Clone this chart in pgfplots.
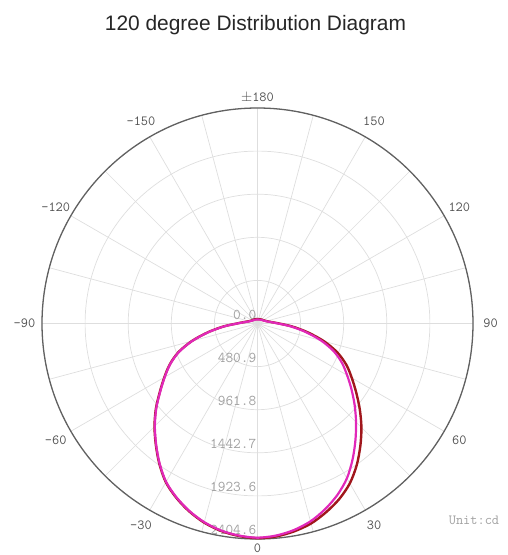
\documentclass[border=0pt]{standalone}
\usepackage{fontspec}
\setmainfont{Liberation Sans}
\usepackage{pgfplots}
\usepackage{pgfplotstable}
\usepgfplotslibrary{polar}
\pgfplotsset{compat=1.18}
\definecolor{redc}{RGB}{160,22,28}
\definecolor{magc}{RGB}{225,40,185}
\definecolor{gridc}{RGB}{222,222,222}
\definecolor{labc}{RGB}{80,80,80}
\definecolor{rlabc}{RGB}{160,160,160}

% angle (0 = downward axis) and intensity in cd
\pgfplotstableread{
a r
-180 50
-165 50
-150 55
-135 60
-120 70
-110 85
-100 120
-95 160
-90 230
-85 380
-80 560
-75 760
-70 940
-65 1080
-60 1200
-55 1330
-50 1480
-45 1625
-40 1765
-35 1910
-30 2045
-25 2145
-20 2230
-15 2300
-10 2350
-5 2380
0 2395
5 2385
10 2355
15 2310
20 2240
25 2160
30 2060
35 1930
40 1785
45 1640
50 1490
55 1345
60 1215
65 1095
70 950
75 770
80 570
85 390
90 240
95 165
100 125
110 90
120 75
135 62
150 55
165 50
180 50
}\redtab

\pgfplotstableread{
a r
-180 45
-165 45
-150 50
-135 55
-120 65
-110 80
-100 115
-95 155
-90 225
-85 375
-80 555
-75 755
-70 935
-65 1075
-60 1195
-55 1325
-50 1475
-45 1620
-40 1760
-35 1905
-30 2040
-25 2140
-20 2225
-15 2295
-10 2345
-5 2375
0 2390
5 2375
10 2340
15 2285
20 2205
25 2110
30 1995
35 1850
40 1700
45 1555
50 1415
55 1280
60 1155
65 1040
70 905
75 735
80 545
85 375
90 230
95 160
100 120
110 85
120 70
135 58
150 50
165 45
180 45
}\magtab

\begin{document}
\begin{tikzpicture}
\useasboundingbox (0,0) rectangle (508bp,555bp);
\node[anchor=base, font=\fontsize{21}{24}\selectfont, text=black!85] at (255.5bp,524.3bp) {120 degree Distribution Diagram};
\begin{polaraxis}[
  at={(257.5bp,231.5bp)}, anchor=center,
  width=431bp, height=431bp, scale only axis,
  ymin=0, ymax=2404.5,
  xtick={0,30,...,330},
  minor xtick={15,45,...,345},
  xticklabels={},
  ytick={480.9,961.8,1442.7,1923.6,2404.5},
  yticklabels={},
  grid=both,
  major grid style={gridc, line width=0.7bp},
  minor grid style={gridc, line width=0.7bp},
  x axis line style={draw=black!62, line width=1.3bp},
  y axis line style={draw=none},
  major tick length=0pt, minor tick length=0pt,
  clip=false,
]
\foreach \r/\t in {0/0.0,480.9/480.9,961.8/961.8,1442.7/1442.7,1923.6/1923.6,2404.5/2404.6}{
  \edef\tmp{\noexpand\node[anchor=south east, font=\noexpand\ttfamily\noexpand\fontsize{15}{15}\noexpand\selectfont, text=rlabc, inner sep=1bp, yshift=3bp] at (axis cs:270,\r) {\t};}
  \tmp
}
\tikzset{alab/.style={font=\ttfamily\fontsize{14}{14}\selectfont, text=labc, anchor=center, inner sep=0pt}}
\node[alab] at (axis cs:0,2600) {90};
\node[alab] at (axis cs:30,2600) {120};
\node[alab] at (axis cs:60,2600) {150};
\node[alab] at (axis cs:90,2515) {$\pm$180};
\node[alab] at (axis cs:120,2600) {-150};
\node[alab] at (axis cs:150,2600) {-120};
\node[alab] at (axis cs:180,2600) {-90};
\node[alab] at (axis cs:210,2600) {-60};
\node[alab] at (axis cs:240,2600) {-30};
\node[alab] at (axis cs:270,2505) {0};
\node[alab] at (axis cs:300,2600) {30};
\node[alab] at (axis cs:330,2600) {60};
\addplot[redc, line width=2.4bp, smooth] table[x expr=\thisrow{a}-90, y=r] {\redtab};
\addplot[magc, line width=2.2bp, smooth] table[x expr=\thisrow{a}-90, y=r] {\magtab};
\end{polaraxis}
\node[font=\ttfamily\fontsize{14}{14}\selectfont, text=rlabc] at (474bp,35bp) {Unit:cd};
\end{tikzpicture}
\end{document}
